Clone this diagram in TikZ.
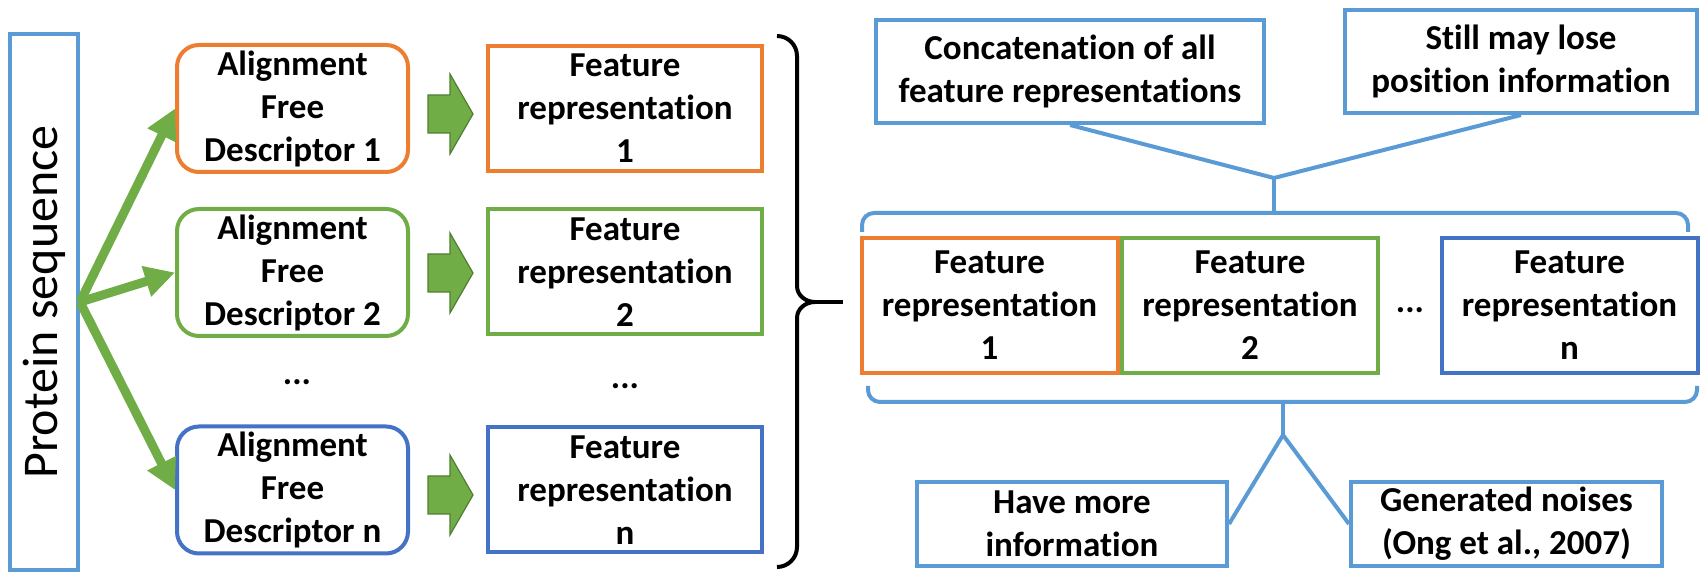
\documentclass[tikz,border=0pt]{standalone}
\usepackage{fontspec}
\setmainfont[Ligatures={NoCommon,NoContextual,NoRare},Contextuals=NoAlternate]{Carlito}
\usetikzlibrary{arrows.meta}
\definecolor{cOrange}{HTML}{ED7D31}
\definecolor{cGreen}{HTML}{70AD47}
\definecolor{cDGreen}{HTML}{507E32}
\definecolor{cBlue}{HTML}{4472C4}
\definecolor{cLBlue}{HTML}{5B9BD5}
\begin{document}
\begin{tikzpicture}[x=0.5pt,y=-0.5pt,
  txt/.style={font=\bfseries\fontsize{17.5}{21.5}\selectfont, align=center, inner sep=0pt},
  box/.style={txt, draw, line width=2pt},
  desc/.style={box, rounded corners=11pt, minimum width=115.5pt, minimum height=63.5pt},
  feat/.style={box, minimum width=137pt, minimum height=62.5pt},
  rowfeat/.style={box, minimum width=128pt, minimum height=67.5pt},
  note/.style={box, draw=cLBlue},
  fan/.style={cGreen, line width=4.5pt, -{Triangle[length=15pt,width=15pt]}},
  blockarrow/.style={fill=cGreen, draw=cDGreen, line width=0.6pt},
  link/.style={cLBlue, line width=2pt},
  brace/.style={black, line width=2pt},
]
\useasboundingbox (0,0) rectangle (1708,576);

% protein sequence
\node[draw=cLBlue, line width=2pt, rotate=90, minimum width=268pt, minimum height=34pt,
      inner sep=0pt, font=\fontsize{25}{30}\selectfont] (prot) at (44,302) {Protein sequence};

% descriptors
\node[desc, draw=cOrange] (d1) at (292.5,108.5) {Alignment\\Free\\Descriptor 1};
\node[desc, draw=cGreen]  (d2) at (292.5,272.5) {Alignment\\Free\\Descriptor 2};
\node[desc, draw=cBlue]   (dn) at (292.5,490)   {Alignment\\Free\\Descriptor n};
\node[txt] (ddots) at (297,382) {...};

% fan arrows
\draw[fan] (prot.south) -- (d1.west);
\draw[fan] (prot.south) -- (d2.west);
\draw[fan] (prot.south) -- (dn.west);

% feature representations (column)
\node[feat, draw=cOrange] (f1) at (625,108.5) {Feature\\representation\\1};
\node[feat, draw=cGreen]  (f2) at (625,272)   {Feature\\representation\\2};
\node[feat, draw=cBlue]   (fn) at (625,490)   {Feature\\representation\\n};
\node[txt] (fdots) at (625,386) {...};

% block arrows
\foreach \yy in {114,273,495}{
  \draw[blockarrow] (428,{\yy-19}) -- (450,{\yy-19}) -- (450,{\yy-40}) -- (473,\yy)
     -- (450,{\yy+40}) -- (450,{\yy+19}) -- (428,{\yy+19}) -- cycle;
}

% black brace
\coordinate (brtip) at (843,302);
\draw[brace] (777,36) to[out=0,in=90] (797,56) -- (797,286) to[out=-90,in=180] (815,302)
   to[out=180,in=90] (797,318) -- (797,547) to[out=-90,in=0] (777,567);
\draw[brace] (815,302) -- (brtip);

% concatenated row
\node[rowfeat, draw=cOrange] (r1) at (989.5,305.5) {Feature\\representation\\1};
\node[rowfeat, draw=cGreen]  (r2) at (1250,305.5)  {Feature\\representation\\2};
\node[rowfeat, draw=cBlue]   (rn) at (1569.5,305.5) {Feature\\representation\\n};
\node[txt] (rdots) at (1410,310) {...};

% notes
\node[note, minimum width=194pt, minimum height=51.5pt] (cat) at (1070,71.5)
   {Concatenation of all\\feature representations};
\node[note, minimum width=176pt, minimum height=51.5pt] (still) at (1521,61.5)
   {Still may lose\\position information};
\node[note, minimum width=155pt, minimum height=42pt] (more) at (1072,524)
   {Have more\\information};
\node[note, minimum width=155.5pt, minimum height=42pt] (noise) at (1506.5,524)
   {Generated noises\\(Ong et al., 2007)};

% top blue brace and links
\coordinate (tj) at (1274,178);
\coordinate (tb) at (1274,213);
\draw[link] (cat.south) -- (tj);
\draw[link] (still.south) -- (tj);
\draw[link] (tj) -- (tb);
\draw[link, rounded corners=6pt] (862,232) -- (862,213) -- (1688,213) -- (1688,232);

% bottom blue brace and links
\coordinate (bb) at (1283,402);
\coordinate (bj) at (1283,435);
\draw[link, rounded corners=6pt] (868,386) -- (868,402) -- (1697,402) -- (1697,386);
\draw[link] (bb) -- (bj);
\draw[link] (bj) -- (more.east);
\draw[link] (bj) -- (noise.west);
\end{tikzpicture}
\end{document}
